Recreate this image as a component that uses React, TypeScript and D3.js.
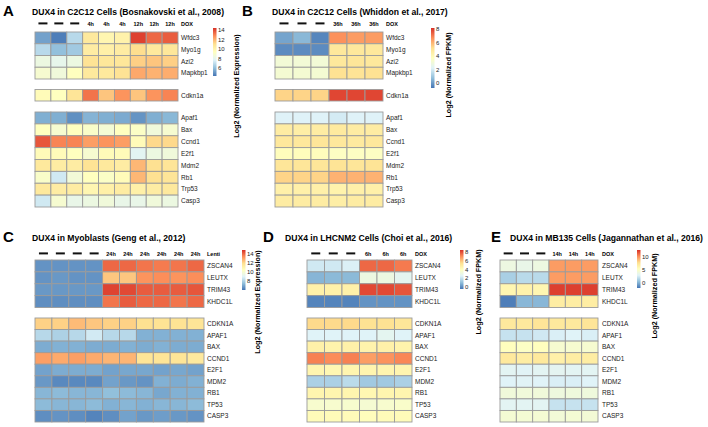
import * as d3 from 'd3';

// pheatmap default palette: rev(RdYlBu, 7)
const PALETTE = ['#4575B4', '#91BFDB', '#E0F3F8', '#FFFFBF', '#FEE090', '#FC8D59', '#D73027'];
const FONT = '"Liberation Sans", Arial, sans-serif';

// ---- A: C2C12 (Bosnakovski 2008)
const mouseGenes = ['Wfdc3', 'Myo1g', 'Azi2', 'Mapkbp1', 'Cdkn1a', 'Apaf1', 'Bax', 'Ccnd1', 'E2f1', 'Mdm2', 'Rb1', 'Trp53', 'Casp3'];
const aCols = ['', '', '', '4h', '4h', '4h', '12h', '12h', '12h'];
const aValues = [
    [5.4, 4.6, 6.9, 10.6, 9.9, 10.1, 14.1, 13.4, 13.6],
    [6.9, 6.1, 6.4, 10.4, 10.2, 10.4, 11.1, 10.6, 10.7],
    [8.4, 8.1, 8.4, 10.9, 10.7, 10.7, 11.4, 11.6, 11.4],
    [8.9, 8.6, 9.4, 10.6, 10.6, 10.9, 12.2, 12.0, 12.1],
    [9.6, 9.4, 10.8, 13.2, 11.6, 12.6, 11.6, 12.6, 12.9],
    [5.7, 5.7, 5.0, 5.8, 5.7, 5.6, 5.1, 5.7, 5.9],
    [9.4, 8.9, 9.4, 9.1, 8.8, 9.4, 9.2, 8.6, 8.9],
    [13.7, 12.9, 12.9, 12.4, 12.6, 12.4, 9.6, 11.2, 11.2],
    [9.6, 9.6, 9.4, 8.9, 9.6, 9.6, 7.9, 8.4, 8.6],
    [10.6, 10.4, 10.4, 10.9, 10.6, 10.4, 11.9, 11.0, 10.8],
    [9.1, 7.4, 8.7, 9.4, 9.2, 9.6, 11.9, 11.0, 10.8],
    [10.6, 10.4, 10.4, 9.9, 10.2, 10.4, 10.2, 10.4, 10.6],
    [7.4, 8.9, 8.2, 8.4, 8.6, 8.2, 8.2, 8.6, 8.4],
];

// ---- B: C2C12 (Whiddon 2017)
const bCols = ['', '', '', '36h', '36h', '36h'];
const bValues = [
    [0.2, 0.6, -0.4, 6.6, 6.4, 6.4],
    [-0.3, -0.3, -0.3, 4.8, 4.8, 4.8],
    [3.1, 3.1, 3.1, 4.8, 4.9, 4.8],
    [3.2, 3.2, 3.2, 5.1, 5.0, 5.1],
    [5.4, 5.4, 5.4, 7.8, 7.8, 7.8],
    [2.2, 2.2, 2.2, 2.0, 2.2, 2.2],
    [4.6, 4.5, 4.6, 4.7, 4.6, 4.6],
    [4.8, 4.8, 4.9, 4.8, 4.7, 4.8],
    [3.8, 3.8, 3.8, 3.6, 3.6, 3.6],
    [4.9, 4.9, 4.9, 5.0, 4.9, 5.0],
    [5.4, 5.4, 5.4, 6.0, 6.0, 6.0],
    [4.4, 4.4, 4.4, 4.3, 4.4, 4.4],
    [4.6, 4.6, 4.6, 4.5, 4.6, 4.6],
];

// ---- human genes for C, D, E
const humanGenes = ['ZSCAN4', 'LEUTX', 'TRIM43', 'KHDC1L', 'CDKN1A', 'APAF1', 'BAX', 'CCND1', 'E2F1', 'MDM2', 'RB1', 'TP53', 'CASP3'];

// ---- C: Myoblasts (Geng 2012)
const cCols = ['', '', '', '', '24h', '24h', '24h', '24h', '24h', '24h'];
const cValues = [
    [6.6, 6.6, 6.6, 6.6, 14.0, 14.0, 13.8, 13.7, 13.8, 14.0],
    [6.6, 6.7, 6.6, 6.6, 12.4, 12.4, 13.3, 13.4, 13.3, 13.4],
    [6.7, 6.7, 6.7, 6.7, 14.6, 14.5, 14.2, 14.2, 14.2, 14.3],
    [6.5, 6.5, 6.5, 6.5, 13.8, 14.2, 14.0, 14.0, 13.8, 14.0],
    [12.2, 12.2, 12.6, 12.4, 12.2, 12.2, 11.9, 11.8, 11.8, 11.7],
    [8.2, 8.0, 8.2, 8.7, 8.2, 8.2, 7.2, 7.2, 7.2, 7.2],
    [7.1, 7.2, 7.2, 7.1, 7.1, 7.2, 7.1, 7.2, 7.1, 7.1],
    [13.1, 12.9, 13.1, 12.9, 12.7, 12.7, 11.7, 11.7, 11.7, 11.5],
    [6.9, 7.1, 7.1, 7.1, 6.9, 7.0, 7.0, 6.9, 7.0, 6.9],
    [6.7, 6.4, 6.4, 6.4, 6.9, 6.7, 6.6, 7.2, 7.1, 7.2],
    [7.3, 7.4, 7.3, 7.3, 7.5, 7.4, 7.3, 7.0, 7.2, 7.2],
    [7.4, 7.3, 7.3, 7.4, 7.2, 7.3, 7.2, 7.3, 7.3, 7.4],
    [6.5, 6.6, 6.5, 6.3, 6.5, 6.9, 6.7, 6.8, 6.7, 6.6],
];

// ---- D: LHCNM2 (Choi 2016)
const dCols = ['', '', '', '6h', '6h', '6h'];
const dValues = [
    [2.2, 2.2, 2.4, 7.6, 7.6, 7.3],
    [0.8, 0.9, 0.9, 3.1, 3.1, 2.7],
    [4.7, 4.7, 4.7, 8.1, 8.1, 7.9],
    [-0.2, -0.2, -0.2, 0.1, 0.1, 0.1],
    [5.6, 5.6, 5.6, 5.4, 5.4, 5.2],
    [2.5, 2.5, 2.5, 2.5, 2.7, 2.5],
    [4.7, 4.6, 4.7, 4.6, 4.7, 4.6],
    [7.2, 7.0, 7.2, 6.7, 6.9, 7.1],
    [4.5, 4.4, 4.5, 4.5, 4.5, 4.5],
    [1.5, 1.5, 1.8, 1.3, 1.3, 1.5],
    [4.5, 4.5, 4.5, 4.4, 4.5, 4.5],
    [3.6, 3.6, 3.6, 3.5, 3.6, 3.7],
    [4.2, 4.2, 4.2, 4.1, 4.2, 4.2],
];

// ---- E: MB135 (Jagannathan 2016)
const eCols = ['', '', '', '14h', '14h', '14h'];
const eValues = [
    [3.9, 3.6, 3.9, 9.8, 9.8, 9.8],
    [1.2, 1.7, 1.7, 9.8, 9.8, 9.8],
    [6.1, 6.4, 6.1, 12.3, 12.3, 12.3],
    [-1.7, 0.2, 0.2, 6.8, 6.8, 6.8],
    [7.1, 7.1, 7.4, 7.1, 7.1, 7.4],
    [2.1, 2.1, 2.4, 2.7, 2.9, 2.7],
    [5.4, 5.1, 5.4, 4.6, 4.6, 4.6],
    [7.1, 6.8, 7.1, 6.5, 6.8, 6.8],
    [3.1, 3.0, 3.1, 3.2, 3.1, 3.1],
    [2.9, 3.0, 2.9, 2.7, 2.7, 2.9],
    [4.2, 4.2, 4.2, 4.0, 4.1, 4.1],
    [3.1, 3.1, 3.1, 2.1, 2.1, 2.1],
    [4.5, 4.5, 4.5, 4.3, 4.5, 4.4],
];

const aTicks = [6, 8, 10, 12, 14];
const bTicks = [0, 2, 4, 6, 8];
const cTicks = [8, 10, 12, 14];
const dTicks = [0, 2, 4, 6, 8];
const eTicks = [0, 5, 10];

const mouseGroups = [
    { n: 4, y0: 32, y1: 79 },
    { n: 1, y0: 89.5, y1: 101 },
    { n: 8, y0: 112, y1: 207 },
];
const humanGroups = [
    { n: 4, y0: 260, y1: 307.5 },
    { n: 9, y0: 318, y1: 422 },
];

const panels = [
    {
        id: 'A', letterX: 3, titleX: 32, titleY: 15, headerY: 26,
        title: 'DUX4 in C2C12 Cells (Bosnakovski et al., 2008)',
        cols: aCols, genes: mouseGenes, values: aValues, groups: mouseGroups,
        x0: 35, x1: 178, labelX: 181, headerEnd: 'DOX',
        cb: { x: 213, y0: 28, y1: 76, domain: [4.4, 14.4], ticks: aTicks },
        axis: { text: 'Log2 (Normalized Expression)', x: 236, cy: 86 },
    },
    {
        id: 'B', letterX: 242, titleX: 272, titleY: 15, headerY: 26,
        title: 'DUX4 in C2C12 Cells (Whiddon et al., 2017)',
        cols: bCols, genes: mouseGenes, values: bValues, groups: mouseGroups,
        x0: 275, x1: 383, labelX: 386, headerEnd: 'DOX',
        cb: { x: 431, y0: 28, y1: 88, domain: [-0.74, 8.15], ticks: bTicks },
        axis: { text: 'Log2 (Normalized FPKM)', x: 448, cy: 75 },
    },
    {
        id: 'C', letterX: 3, titleX: 32, titleY: 241, headerY: 256,
        title: 'DUX4 in Myoblasts (Geng et al., 2012)',
        cols: cCols, genes: humanGenes, values: cValues, groups: humanGroups,
        x0: 35, x1: 204, labelX: 207, headerEnd: 'Lenti',
        cb: { x: 242, y0: 250, y1: 290, domain: [6.0, 14.9], ticks: cTicks },
        axis: { text: 'Log2 (Normalized Expression)', x: 257, cy: 302 },
    },
    {
        id: 'D', letterX: 263, titleX: 285, titleY: 241, headerY: 256,
        title: 'DUX4 in LHCNM2 Cells (Choi et al., 2016)',
        cols: dCols, genes: humanGenes, values: dValues, groups: humanGroups,
        x0: 307, x1: 412, labelX: 415, headerEnd: 'DOX',
        cb: { x: 460, y0: 250, y1: 289, domain: [-0.5, 8.5], ticks: dTicks },
        axis: { text: 'Log2 (Normalized FPKM)', x: 478, cy: 292 },
    },
    {
        id: 'E', letterX: 491, titleX: 510, titleY: 241, headerY: 256,
        title: 'DUX4 in MB135 Cells (Jagannathan et al., 2016)',
        cols: eCols, genes: humanGenes, values: eValues, groups: humanGroups,
        x0: 500, x1: 598, labelX: 602, headerEnd: 'DOX',
        cb: { x: 637, y0: 250, y1: 288, domain: [-2, 12.7], ticks: eTicks },
        axis: { text: 'Log2 (Normalized FPKM)', x: 654, cy: 296 },
    },
];

function Panel({ p }: { p: any }) {
    const [lo, hi] = p.cb.domain;
    const color = d3.scaleLinear<string>()
        .domain(d3.range(7).map(i => lo + (hi - lo) * i / 6))
        .range(PALETTE)
        .interpolate(d3.interpolateRgb)
        .clamp(true);
    const x = d3.scaleBand<number>().domain(d3.range(p.cols.length)).range([p.x0, p.x1]);
    const cbY = d3.scaleLinear().domain([lo, hi]).range([p.cb.y1, p.cb.y0]);
    const gradId = `grad-${p.id}`;

    let start = 0;
    const groups = p.groups.map((g: any) => {
        const idx = d3.range(start, start + g.n);
        start += g.n;
        const y = d3.scaleBand<number>().domain(idx).range([g.y0, g.y1]);
        return { g, idx, y };
    });

    return (
        <g>
            <text x={p.letterX} y={p.titleY + 1} fontSize={15} fontWeight="bold" fontFamily={FONT}>{p.id}</text>
            <text x={p.titleX} y={p.titleY} fontSize={8.6} fontWeight="bold" fontFamily={FONT}>{p.title}</text>

            {/* column header: dash = control */}
            {p.cols.map((c: string, i: number) => {
                const cx = (x(i) ?? 0) + x.bandwidth() / 2;
                return c === ''
                    ? <rect key={i} x={cx - 4.5} y={p.headerY - 3.6} width={9} height={2} fill="#111" />
                    : <text key={i} x={cx} y={p.headerY} textAnchor="middle" fontSize={5.5} fontWeight="bold" fontFamily={FONT}>{c}</text>;
            })}
            <text x={p.labelX} y={p.headerY} fontSize={5.5} fontWeight="bold" fontFamily={FONT}>{p.headerEnd}</text>

            {/* cells */}
            {groups.map(({ idx, y }: any, gi: number) => (
                <g key={gi}>
                    {idx.map((r: number) => p.values[r].map((v: number, ci: number) => (
                        <rect key={`${r}-${ci}`} x={x(ci)} y={y(r)} width={x.bandwidth()} height={y.bandwidth()}
                            fill={color(v)} stroke="#9b9b9b" strokeWidth={0.9} />
                    )))}
                    {idx.map((r: number) => (
                        <text key={`l${r}`} x={p.labelX} y={(y(r) ?? 0) + y.bandwidth() / 2} dy="0.35em"
                            fontSize={6.5} fill="#222" fontFamily={FONT}>{p.genes[r]}</text>
                    ))}
                </g>
            ))}

            {/* colour key */}
            <defs>
                <linearGradient id={gradId} x1="0" y1="1" x2="0" y2="0">
                    {PALETTE.map((c, i) => <stop key={i} offset={`${(i / 6) * 100}%`} stopColor={c} />)}
                </linearGradient>
            </defs>
            <rect x={p.cb.x} y={p.cb.y0} width={3.5} height={p.cb.y1 - p.cb.y0} fill={`url(#${gradId})`} />
            {p.cb.ticks.map((t: number) => (
                <text key={t} x={p.cb.x + 5} y={cbY(t)} dy="0.35em" fontSize={6} fill="#222" fontFamily={FONT}>{t}</text>
            ))}
            <text transform={`translate(${p.axis.x},${p.axis.cy}) rotate(-90)`} textAnchor="middle" dy="0.35em"
                fontSize={7.2} fontWeight="bold" fontFamily={FONT}>{p.axis.text}</text>
        </g>
    );
}

export default function App() {
    return (
        <svg width={708} height={427} style={{ position: 'fixed', left: 0, top: 0, background: '#fff' }}>
            <rect width={708} height={427} fill="#fff" />
            {panels.map(p => <Panel key={p.id} p={p} />)}
        </svg>
    );
}
